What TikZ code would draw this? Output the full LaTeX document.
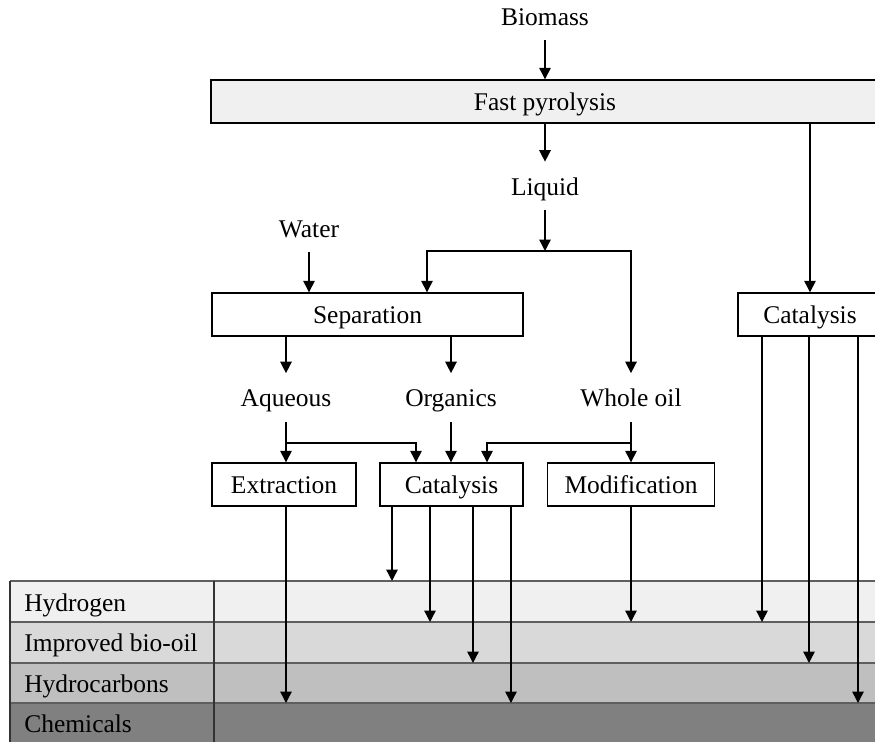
\documentclass[tikz,border=0pt]{standalone}
\usepackage{fontspec}
\setmainfont{Liberation Serif}
\usepackage{tikz}
\usetikzlibrary{arrows.meta}
\usepackage{xcolor}

\definecolor{rowa}{HTML}{F0F0F0}
\definecolor{rowb}{HTML}{D9D9D9}
\definecolor{rowc}{HTML}{BFBFBF}
\definecolor{rowd}{HTML}{808080}
\definecolor{rowline}{HTML}{5E5E5E}

\tikzset{
  every node/.style={font=\fontsize{14.5}{17}\selectfont, text height=13pt, text depth=2.6pt},
  box/.style={draw, line width=0.8pt, minimum height=0.86cm, inner sep=0pt},
  lbl/.style={minimum height=0.96cm, inner sep=0pt},
  arr/.style={line width=0.8pt, -{Triangle[width=6.5pt,length=6.5pt]}}
}

\begin{document}
\begin{tikzpicture}[x=0.02cm, y=-0.02cm]
\clip (0,0) rectangle (875,742);

% bands at the bottom
\fill[color=rowa] (10,581) rectangle (890,622);
\fill[color=rowb] (10,622) rectangle (890,663);
\fill[color=rowc] (10,663) rectangle (890,703);
\fill[color=rowd] (10,703) rectangle (890,745);
\foreach \y in {581,622,663,703}
  \draw [line width=0.9pt, rowline] (10,\y) -- (890,\y);
\draw [line width=0.9pt, black!80] (10,581) -- (10,745);
\draw [line width=0.9pt, black!80] (214,581) -- (214,745);

\coordinate (rowA) at (0,581);
\coordinate (rowB) at (0,622);
\coordinate (rowC) at (0,663);
\coordinate (rowD) at (0,703);

\node [anchor=west, inner sep=0pt] (hyd) at (24,602) {Hydrogen};
\node [anchor=west, inner sep=0pt] (imp) at (24,642) {Improved bio-oil};
\node [anchor=west, inner sep=0pt] (hcb) at (24,683) {Hydrocarbons};
\node [anchor=west, inner sep=0pt] (chem) at (24,723) {Chemicals};

% process nodes
\node [lbl] (biomass) at (545,16) {Biomass};
\node [box, fill=rowa, minimum width=13.36cm] (pyro) at (545,101.5) {Fast pyrolysis};
\node [lbl] (liquid) at (545,186) {Liquid};
\node [lbl] (water) at (309,228) {Water};
\node [box, minimum width=6.22cm] (sep) at (367.5,314.5) {Separation};
\node [box, minimum width=2.88cm] (catR) at (810,314.5) {Catalysis};
\node [lbl] (aq) at (286,397.5) {Aqueous};
\node [lbl] (org) at (451,397.5) {Organics};
\node [lbl] (whole) at (631,397.5) {Whole oil};
\node [box, minimum width=2.88cm] (extr) at (284,484.5) {Extraction};
\node [box, minimum width=2.86cm] (cat) at (451.5,484.5) {Catalysis};
\node [box, minimum width=3.34cm] (modif) at (631,484.5) {Modification};

% connectors
\draw [arr] (biomass.south) -- (pyro.north);
\draw [arr] (pyro.south) -- (liquid.north);
\draw [arr] (pyro.south -| catR.north) -- (catR.north);

\coordinate (jl) at (545,251);
\draw [arr] (liquid.south) -- (jl);
\draw [arr] (jl) -| ([xshift=1.19cm]sep.north);
\draw [arr] (jl) -| (whole.north);
\draw [arr] (water.south) -- (water.south |- sep.north);

\draw [arr] (aq.north |- sep.south) -- (aq.north);
\draw [arr] (org.north |- sep.south) -- (org.north);

\coordinate (ja) at (286,443);
\coordinate (jw) at (631,443);
\draw [arr] (aq.south) -- (aq.south |- extr.north);
\draw [arr] (ja) -| ([xshift=-0.71cm]cat.north);
\draw [arr] (org.south) -- (org.south |- cat.north);
\draw [arr] (whole.south) -- (modif.north);
\draw [arr] (jw) -| ([xshift=0.71cm]cat.north);

% into the bands
\draw [arr] (aq.south |- extr.south) -- (aq.south |- rowD);
\draw [arr] ([xshift=-1.19cm]cat.south) -- ([xshift=-1.19cm]cat.south |- rowA);
\draw [arr] ([xshift=-0.43cm]cat.south) -- ([xshift=-0.43cm]cat.south |- rowB);
\draw [arr] ([xshift=0.43cm]cat.south) -- ([xshift=0.43cm]cat.south |- rowC);
\draw [arr] ([xshift=1.19cm]cat.south) -- ([xshift=1.19cm]cat.south |- rowD);
\draw [arr] (modif.south) -- (modif.south |- rowB);
\draw [arr] ([xshift=-0.96cm]catR.south) -- ([xshift=-0.96cm]catR.south |- rowB);
\draw [arr] ([xshift=-0.02cm]catR.south) -- ([xshift=-0.02cm]catR.south |- rowC);
\draw [arr] ([xshift=0.96cm]catR.south) -- ([xshift=0.96cm]catR.south |- rowD);
\end{tikzpicture}
\end{document}
